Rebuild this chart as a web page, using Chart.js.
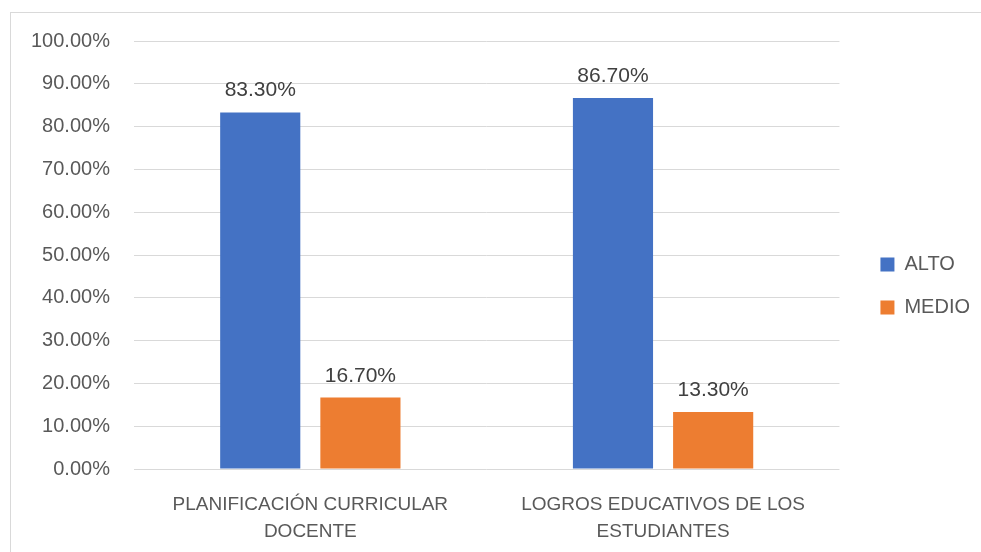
<!DOCTYPE html>
<html>
<head>
<meta charset="utf-8">
<script src="https://cdn.jsdelivr.net/npm/chart.js@4/dist/chart.umd.min.js"></script>
<style>
  html, body { margin: 0; padding: 0; background: #fff; overflow: hidden; }
  #box {
    position: absolute; left: 10px; top: 12px;
    width: 975px; height: 565px;
    border: 1px solid #d9d9d9; box-sizing: border-box;
  }
</style>
</head>
<body>
<div id="box"><canvas id="myChart"></canvas></div>
<script>
const categories = [
  ["PLANIFICACIÓN CURRICULAR", "DOCENTE"],
  ["LOGROS EDUCATIVOS DE LOS", "ESTUDIANTES"]
];
const seriesNames = ["ALTO", "MEDIO"];
const alto = [0.833, 0.867];
const medio = [0.167, 0.133];
const colors = ["#4472C4", "#ED7D31"];

const fontFamily = "'Liberation Sans', Arial, sans-serif";

function pct(v) {
  return (v * 100).toFixed(2) + "%";
}

// draws the value above each bar
const barLabels = {
  id: "barLabels",
  afterDatasetsDraw(chart) {
    const ctx = chart.ctx;
    ctx.save();
    ctx.font = "21px " + fontFamily;
    ctx.fillStyle = "#404040";
    ctx.textAlign = "center";
    ctx.textBaseline = "alphabetic";
    chart.data.datasets.forEach((ds, i) => {
      chart.getDatasetMeta(i).data.forEach((bar, j) => {
        ctx.fillText(pct(ds.data[j]), bar.x, bar.y - 16);
      });
    });
    ctx.restore();
  }
};

// nudge the legend a bit away from the plot, like the original
const legendShift = {
  id: "legendShift",
  afterLayout(chart) {
    const lg = chart.legend;
    lg.left += 18;
    lg.right += 18;
    lg.top -= 14;
    lg.bottom -= 14;
  }
};

window.onload = function() {
  const box = document.getElementById("box");
  const canvas = document.getElementById("myChart");
  canvas.width = box.clientWidth;
  canvas.height = box.clientHeight;

  new Chart(canvas.getContext("2d"), {
    type: "bar",
    data: {
      labels: categories,
      datasets: [
        { label: seriesNames[0], data: alto, backgroundColor: colors[0] },
        { label: seriesNames[1], data: medio, backgroundColor: colors[1] }
      ]
    },
    options: {
      responsive: false,
      animation: false,
      categoryPercentage: 0.568,
      barPercentage: 0.8,
      layout: { padding: { left: 16, top: 28, right: 22, bottom: 17 } },
      plugins: {
        legend: {
          position: "right",
          labels: {
            boxWidth: 14,
            boxHeight: 14,
            padding: 23,
            color: "#595959",
            font: { family: fontFamily, size: 20 }
          }
        },
        tooltip: { enabled: false }
      },
      scales: {
        x: {
          grid: { display: false },
          border: { display: false },
          ticks: {
            color: "#595959",
            padding: 14,
            font: { family: fontFamily, size: 19, lineHeight: 1.42 }
          }
        },
        y: {
          min: 0,
          max: 1,
          border: { display: false },
          grid: {
            color: "#d9d9d9",
            lineWidth: 1,
            drawTicks: true,
            tickLength: 20,
            tickColor: "rgba(0,0,0,0)"
          },
          ticks: {
            stepSize: 0.1,
            padding: 4,
            color: "#595959",
            font: { family: fontFamily, size: 20 },
            callback: v => pct(v)
          }
        }
      }
    },
    plugins: [barLabels, legendShift]
  });
};
</script>
</body>
</html>
